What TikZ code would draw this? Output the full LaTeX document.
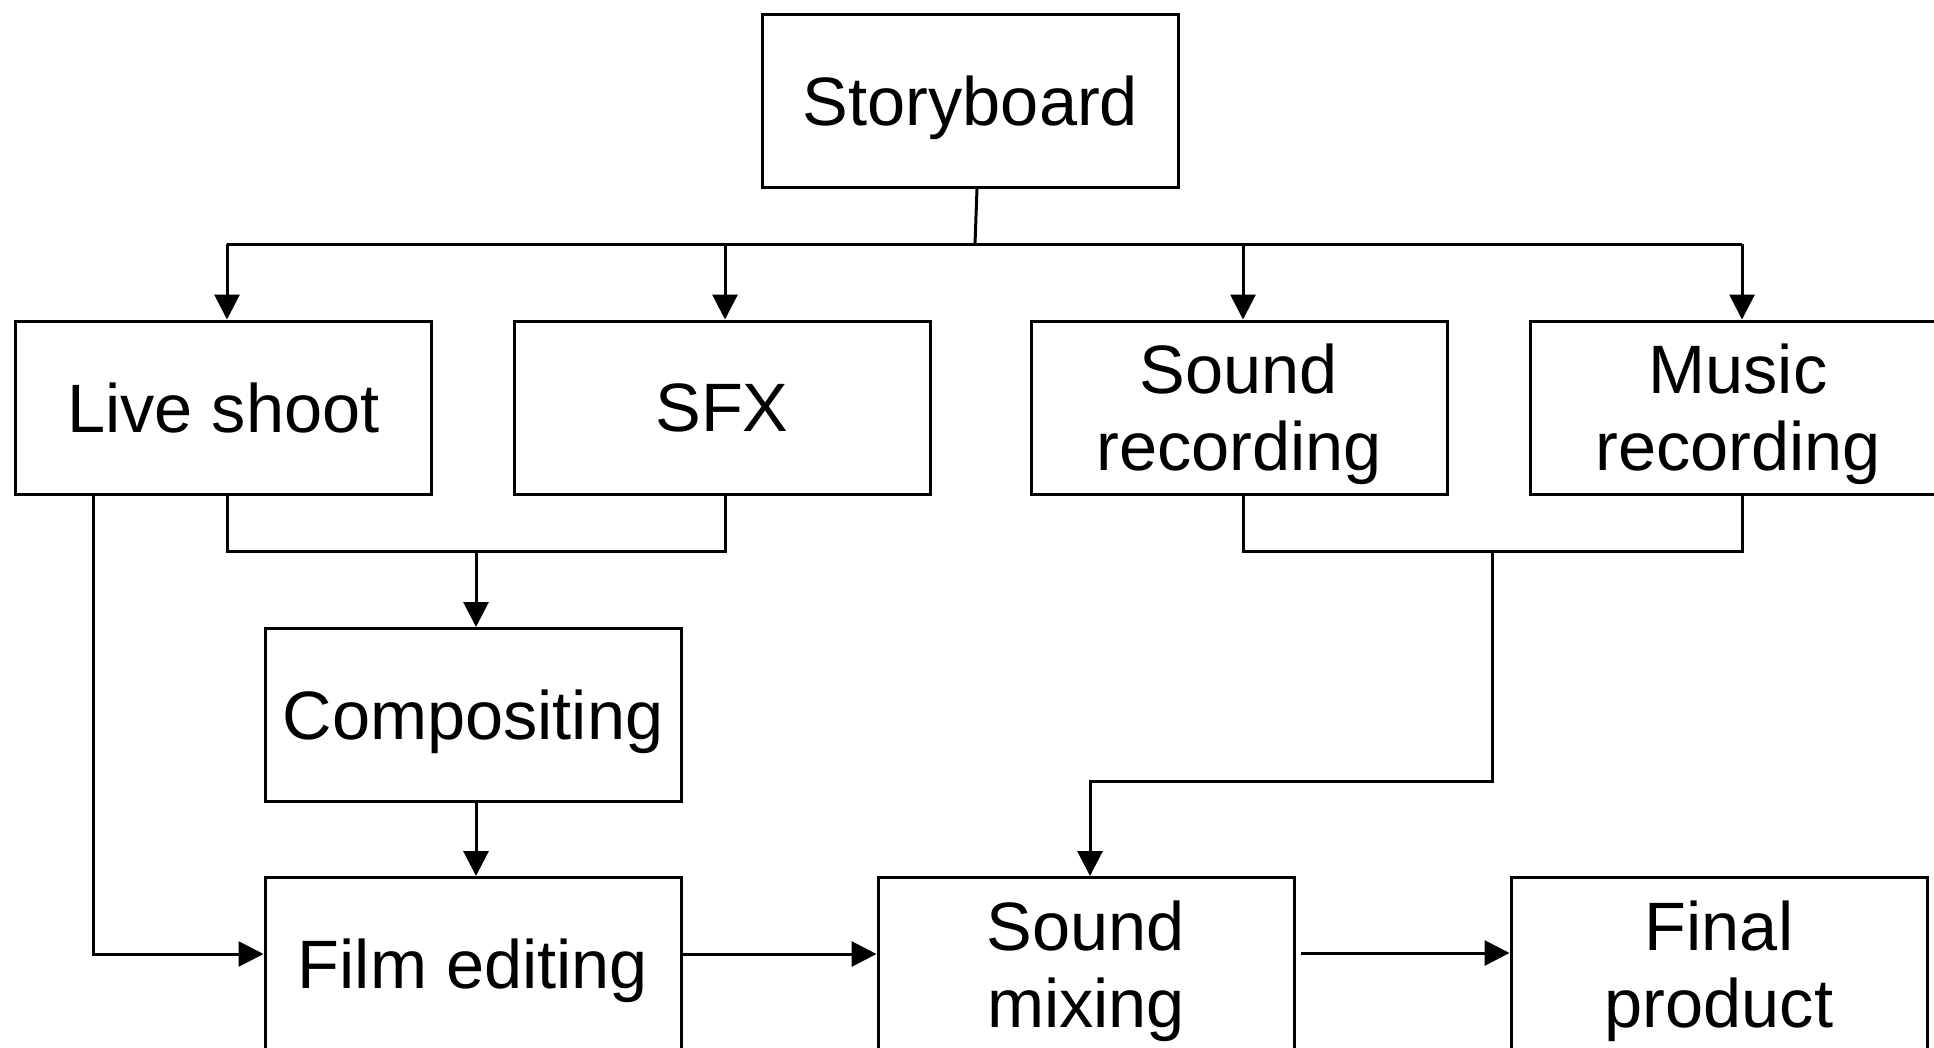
\documentclass[tikz,border=0pt]{standalone}
\usepackage{fontspec}
\setmainfont{Liberation Sans}
\usetikzlibrary{arrows.meta}
\begin{document}
\begin{tikzpicture}[x=1pt,y=-1pt,
  box/.style={draw,line width=3pt,minimum width=416pt,minimum height=173pt,
    inner sep=0pt,align=center,text depth=0pt,font=\fontsize{68.5}{77}\selectfont},
  link/.style={line width=3pt},
  arr/.style={link,-{Triangle[length=25pt,width=25pt]}}]
\useasboundingbox (0,0) rectangle (1934,1047);
\clip (0,0) rectangle (1934,1047);

% stages of the production pipeline
\node[box] (story) at (970.5,100.5) {Storyboard};
\node[box] (live)  at (223.5,407.5) {Live shoot};
\node[box] (sfx)   at (722,407.5)   {SFX};
\node[box] (srec)  at (1239,407.5)  {Sound\\recording};
\node[box] (mrec)  at (1738,407.5)  {Music\\recording};
\node[box] (comp)  at (473,715)     {Compositing};
\node[box] (film)  at (473,964)     {Film editing};
\node[box] (mix)   at (1086,964)    {Sound\\mixing};
\node[box] (final) at (1719,964)    {Final\\product};

% routing points
\coordinate (stem) at (975,244);
\coordinate (b1) at (227,244);
\coordinate (b2) at (725,244);
\coordinate (b3) at (1243,244);
\coordinate (b4) at (1742,244);
\coordinate (lf) at (93,954);
\coordinate (j1) at (227,551);
\coordinate (j2) at (725,551);
\coordinate (jc) at (476,551);
\coordinate (s1) at (1243,551);
\coordinate (s2) at (1742,551);
\coordinate (sc) at (1492,551);
\coordinate (sk) at (1492,781);
\coordinate (sm) at (1090,781);
\coordinate (fm) at (1301,953);

% storyboard fans out to the four production branches
\draw[link] ([xshift=6.5pt]story.south) -- (stem);
\draw[link] (b1) -- (b4);
\draw[arr] (b1) -- (b1 |- live.north);
\draw[arr] (b2) -- (b2 |- sfx.north);
\draw[arr] (b3) -- (b3 |- srec.north);
\draw[arr] (b4) -- (b4 |- mrec.north);

% picture branch
\draw[arr] (live.south -| lf) -- (lf) -- (lf -| film.west);
\draw[link] (j1 |- live.south) -- (j1) -- (j2) -- (j2 |- sfx.south);
\draw[arr] (jc) -- (jc |- comp.north);
\draw[arr] (jc |- comp.south) -- (jc |- film.north);

% sound branch
\draw[link] (s1 |- srec.south) -- (s1) -- (s2) -- (s2 |- mrec.south);
\draw[arr] (sc) -- (sk) -- (sm) -- (sm |- mix.north);

% final assembly
\draw[arr] (lf -| film.east) -- (lf -| mix.west);
\draw[arr] (fm) -- (fm -| final.west);
\end{tikzpicture}
\end{document}
